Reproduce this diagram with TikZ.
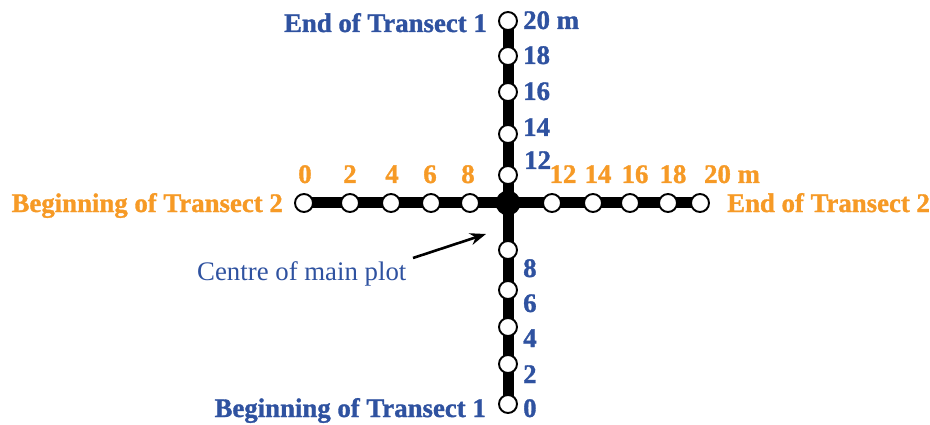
\documentclass[tikz,border=0pt]{standalone}
\usepackage{fontspec}
\setmainfont{Liberation Serif}[BoldFeatures={FakeBold=1.2}]
\usetikzlibrary{backgrounds,arrows.meta}
\definecolor{blueT}{RGB}{47,82,160}
\definecolor{orangeT}{RGB}{246,154,38}
\newcommand{\labfont}{\fontsize{26.8}{31}\selectfont}
\begin{document}
\begin{tikzpicture}[x=1pt,y=-1pt,
  pt/.style={circle,draw=black,fill=white,line width=1.9pt,minimum size=18pt,inner sep=0pt},
  ctr/.style={circle,fill=black,minimum size=25pt,inner sep=0pt},
  bar/.style={line width=11pt,black},
  blab/.style={text=blueT,font=\labfont\bfseries,inner sep=0pt,anchor=base west},
  olab/.style={text=orangeT,font=\labfont\bfseries,inner sep=0pt,anchor=base},
  ttl/.style={font=\labfont\bfseries,inner sep=0pt},
  note/.style={text=blueT,font=\labfont,inner sep=0pt,anchor=base west}]
\useasboundingbox (0,0) rectangle (930,425);
% vertical transect points
\node[ctr] (c) at (508,203) {};
\node[pt] (v20) at (508,21) {};
\node[pt] (v18) at (508,56) {};
\node[pt] (v16) at (508,92) {};
\node[pt] (v14) at (508,134) {};
\node[pt] (v12) at (508,175) {};
\node[pt] (v8) at (508,250) {};
\node[pt] (v6) at (508,290) {};
\node[pt] (v4) at (508,327) {};
\node[pt] (v2) at (508,364) {};
\node[pt] (v0) at (508,404) {};
% horizontal transect points
\node[pt] (h0) at (304,203) {};
\node[pt] (h2) at (350,203) {};
\node[pt] (h4) at (391,203) {};
\node[pt] (h6) at (431,203) {};
\node[pt] (h8) at (470,203) {};
\node[pt] (h12) at (552,203) {};
\node[pt] (h14) at (593,203) {};
\node[pt] (h16) at (630,203) {};
\node[pt] (h18) at (668,203) {};
\node[pt] (h20) at (700,203) {};
\begin{scope}[on background layer]
\draw[bar] (v20.center) -- (v0.center);
\draw[bar] (h0.center) -- (h20.center);
\end{scope}
% blue labels
\node[blab] at (523,29) {20 m};
\node[blab] at (523,64) {18};
\node[blab] at (523,100) {16};
\node[blab] at (523,136) {14};
\node[blab] at (524,169) {12};
\node[blab] at (523,277) {8};
\node[blab] at (523,312) {6};
\node[blab] at (523,347) {4};
\node[blab] at (523,383) {2};
\node[blab] at (523,417) {0};
% orange labels
\node[olab] at (305,183) {0};
\node[olab] at (350,183) {2};
\node[olab] at (392,183) {4};
\node[olab] at (430,183) {6};
\node[olab] at (468,183) {8};
\node[olab] at (563,183) {12};
\node[olab] at (598,183) {14};
\node[olab] at (635,183) {16};
\node[olab] at (673,183) {18};
\node[olab] at (732,183) {20 m};
% titles
\node[ttl,text=blueT,anchor=base east] (t1e) at (487,32) {End of Transect 1};
\node[ttl,text=blueT,anchor=base east] (t1b) at (486,417) {Beginning of Transect 1};
\node[ttl,text=orangeT,anchor=base east] (t2b) at (283,212) {Beginning of Transect 2};
\node[ttl,text=orangeT,anchor=base west] (t2e) at (727,212) {End of Transect 2};
\node[note] (cm) at (197,280) {Centre of main plot};
\coordinate (a0) at (413,258);
\coordinate (a1) at (486,234);
\draw[line width=2.6pt,-{Stealth[length=16pt,width=12pt]}] (a0) -- (a1);
\end{tikzpicture}
\end{document}
